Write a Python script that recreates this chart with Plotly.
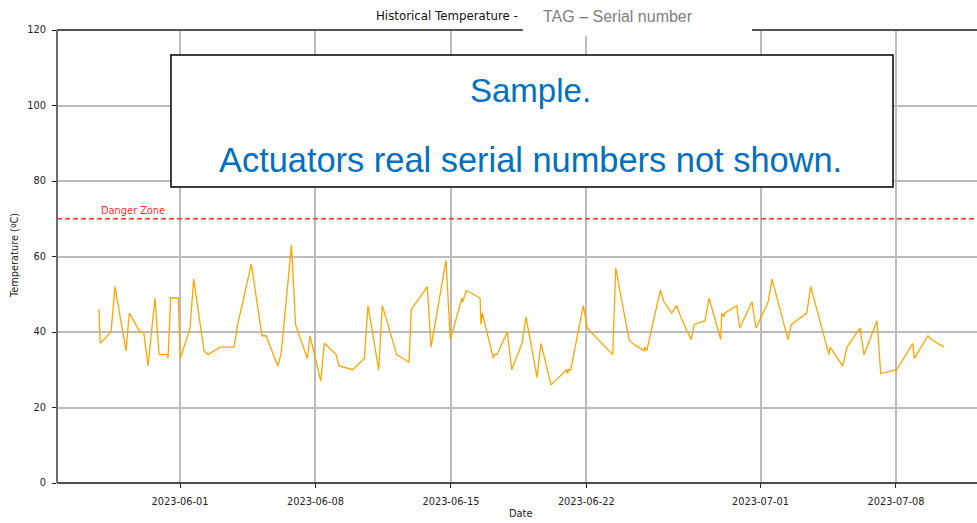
import plotly.graph_objects as go

# ---- data ----
timestamps = [
    "2023-05-27 19:30", "2023-05-27 21:00", "2023-05-28 10:25", "2023-05-28 15:23", "2023-05-29 05:01",
    "2023-05-29 09:07", "2023-05-29 22:23", "2023-05-30 02:59", "2023-05-30 08:18", "2023-05-30 16:59",
    "2023-05-30 21:58", "2023-05-31 08:15", "2023-05-31 09:07", "2023-05-31 12:27", "2023-05-31 21:53",
    "2023-06-01 00:22", "2023-06-01 12:24", "2023-06-01 16:59", "2023-06-02 05:46", "2023-06-02 10:43",
    "2023-06-03 01:36", "2023-06-03 18:59", "2023-06-03 23:34", "2023-06-04 16:26", "2023-06-05 05:43",
    "2023-06-05 10:39", "2023-06-06 01:10", "2023-06-06 05:17", "2023-06-06 18:17", "2023-06-06 23:16",
    "2023-06-07 13:53", "2023-06-07 17:14", "2023-06-08 06:30", "2023-06-08 10:58", "2023-06-09 01:29",
    "2023-06-09 05:12", "2023-06-09 22:12", "2023-06-10 12:36", "2023-06-10 17:11", "2023-06-11 06:27",
    "2023-06-11 10:55", "2023-06-12 04:47", "2023-06-12 20:02", "2023-06-12 22:53", "2023-06-13 18:43",
    "2023-06-13 23:19", "2023-06-14 17:56", "2023-06-14 23:15", "2023-06-15 13:46", "2023-06-15 14:38",
    "2023-06-15 19:06", "2023-06-16 12:06", "2023-06-16 13:20", "2023-06-16 14:57", "2023-06-17 04:35",
    "2023-06-17 05:50", "2023-06-17 09:10", "2023-06-17 21:57", "2023-06-18 03:24", "2023-06-18 16:10",
    "2023-06-18 21:09", "2023-06-19 10:48", "2023-06-19 15:45", "2023-06-20 04:09", "2023-06-20 23:38",
    "2023-06-21 00:52", "2023-06-21 02:07", "2023-06-21 04:35", "2023-06-21 20:13", "2023-06-22 01:11",
    "2023-06-23 08:41", "2023-06-23 12:24", "2023-06-24 04:54", "2023-06-24 09:00", "2023-06-24 23:30",
    "2023-06-25 00:23", "2023-06-25 02:51", "2023-06-25 19:44", "2023-06-26 00:19", "2023-06-26 09:52",
    "2023-06-26 16:03", "2023-06-26 21:02", "2023-06-27 09:47", "2023-06-27 13:53", "2023-06-28 03:10",
    "2023-06-28 08:08", "2023-06-28 22:38", "2023-06-28 23:53", "2023-06-29 02:44", "2023-06-29 03:36",
    "2023-06-29 18:29", "2023-06-29 22:12", "2023-06-30 13:28", "2023-06-30 18:25", "2023-07-01 09:33",
    "2023-07-01 14:15", "2023-07-02 10:06", "2023-07-02 13:28", "2023-07-02 14:20", "2023-07-03 09:19",
    "2023-07-03 14:15", "2023-07-04 12:57", "2023-07-04 14:12", "2023-07-05 05:57", "2023-07-05 11:17",
    "2023-07-06 03:24", "2023-07-06 08:22", "2023-07-07 00:30", "2023-07-07 05:05", "2023-07-08 00:56",
    "2023-07-08 20:47", "2023-07-08 22:45", "2023-07-09 15:45", "2023-07-09 19:50", "2023-07-10 11:36",
]
temperatures = [
    46, 37, 40, 52, 35, 45, 40, 40, 31, 49,
    34, 34, 33, 49, 49, 33, 41, 54, 35, 34,
    36, 36, 42, 58, 39, 39, 31, 34, 63, 42,
    33, 39, 27, 37, 34, 31, 30, 33, 47, 30,
    47, 34, 32, 46, 52, 36, 59, 38, 49, 48,
    51, 49, 42, 45, 33, 34, 34, 40, 30, 37,
    44, 28, 37, 26, 30, 29, 30, 30, 47, 41,
    34, 57, 38, 37, 35, 36, 35, 51, 48, 45,
    47, 44, 38, 42, 43, 49, 38, 45, 44, 45,
    47, 41, 48, 41, 48, 54, 38, 41, 42, 45,
    52, 34, 36, 31, 36, 41, 34, 43, 29, 30,
    37, 33, 39, 38, 36,
]
danger_level = 70
x_tick_vals = ["2023-06-01", "2023-06-08", "2023-06-15", "2023-06-22", "2023-07-01", "2023-07-08"]
x_tick_text = ["2023-06-01", "2023-06-08", "2023-06-15", "2023-06-22", "2023-07-01", "2023-07-08"]
y_tick_vals = [0, 20, 40, 60, 80, 100, 120]

FONT = "DejaVu Sans"
TICK_SIZE = 9.8

fig = go.Figure()
fig.add_trace(go.Scatter(
    x=timestamps, y=temperatures, mode="lines",
    line=dict(color="#FFA500", width=1.3), showlegend=False, hoverinfo="skip",
))

fig.update_layout(
    width=977, height=523,
    margin=dict(l=57, r=0, t=30, b=40),
    paper_bgcolor="white", plot_bgcolor="white",
    font=dict(family=FONT, size=TICK_SIZE, color="#222"),
    xaxis=dict(
        range=["2023-05-25 15:26", "2023-07-12 04:32"],
        tickvals=x_tick_vals, ticktext=x_tick_text,
        showgrid=True, gridcolor="#bcbcbc", gridwidth=1.5,
        ticks="outside", ticklen=4, tickwidth=1, tickcolor="#222",
        showline=False, zeroline=False, ticklabelstandoff=5,
        tickfont=dict(family=FONT, size=TICK_SIZE, color="#222"),
    ),
    yaxis=dict(
        range=[0, 120], tickvals=y_tick_vals,
        showgrid=True, gridcolor="#bcbcbc", gridwidth=1.5,
        ticks="outside", ticklen=4, tickwidth=1, tickcolor="#222",
        showline=False, zeroline=False, ticklabelstandoff=4,
        tickfont=dict(family=FONT, size=TICK_SIZE, color="#222"),
    ),
)

shapes = [
    # danger line
    dict(type="line", xref="paper", yref="y", x0=0, x1=1, y0=danger_level, y1=danger_level,
         line=dict(color="#ff2a2a", width=1.5, dash="5px,3px"), layer="above"),
    # spines
    dict(type="line", xref="paper", yref="paper", x0=0, x1=1, y0=0, y1=0,
         line=dict(color="#111", width=1.5), layer="above"),
    dict(type="line", xref="paper", yref="paper", x0=0, x1=1, y0=1, y1=1,
         line=dict(color="#555", width=2), layer="above"),
    dict(type="line", xref="paper", yref="paper", x0=0, x1=0, y0=0, y1=1,
         line=dict(color="#6a6a6a", width=2), layer="above"),
    # white patch over title tail
    dict(type="rect", xref="paper", yref="paper", x0=0.5065, x1=0.7554, y0=0.9868, y1=1.08,
         fillcolor="white", line=dict(width=0), layer="above"),
    # sample box
    dict(type="rect", xref="paper", yref="paper", x0=0.1239, x1=0.9087, y0=0.6534, y1=0.9448,
         fillcolor="white", line=dict(color="black", width=1.5), layer="above"),
]
fig.update_layout(shapes=shapes)

annotations = [
    dict(text="Historical Temperature - ", xref="paper", yref="paper", x=0.426, y=1.0309,
         showarrow=False, xanchor="center", yanchor="middle",
         font=dict(family=FONT, size=11.8, color="#111")),
    dict(text="TAG – Serial number", xref="paper", yref="paper", x=0.6098, y=1.0287,
         showarrow=False, xanchor="center", yanchor="middle",
         font=dict(family="Liberation Sans", size=16, color="#808080")),
    dict(text="Sample.", xref="paper", yref="paper", x=0.5152, y=0.8675,
         showarrow=False, xanchor="center", yanchor="middle",
         font=dict(family="Liberation Sans", size=33, color="#0070C0")),
    dict(text="Actuators real serial numbers not shown.", xref="paper", yref="paper", x=0.5152, y=0.7130,
         showarrow=False, xanchor="center", yanchor="middle",
         font=dict(family="Liberation Sans", size=34.4, color="#0070C0")),
    dict(text="Danger Zone", xref="paper", yref="y", x=0.0457, y=72.1,
         showarrow=False, xanchor="left", yanchor="middle",
         font=dict(family=FONT, size=9.8, color="#ff2a2a")),
    dict(text="Temperature (ºC)", xref="paper", yref="paper", x=-0.0467, y=0.501,
         showarrow=False, xanchor="center", yanchor="middle", textangle=-90,
         font=dict(family=FONT, size=TICK_SIZE, color="#222")),
    dict(text="Date", xref="paper", yref="paper", x=0.5043, y=-0.0684,
         showarrow=False, xanchor="center", yanchor="middle",
         font=dict(family=FONT, size=TICK_SIZE, color="#222")),
]
fig.update_layout(annotations=annotations)

fig.write_html(
    "out.html",
    config={"displayModeBar": False},
    post_script="document.body.style.margin='0';document.body.style.overflow='hidden';",
)
